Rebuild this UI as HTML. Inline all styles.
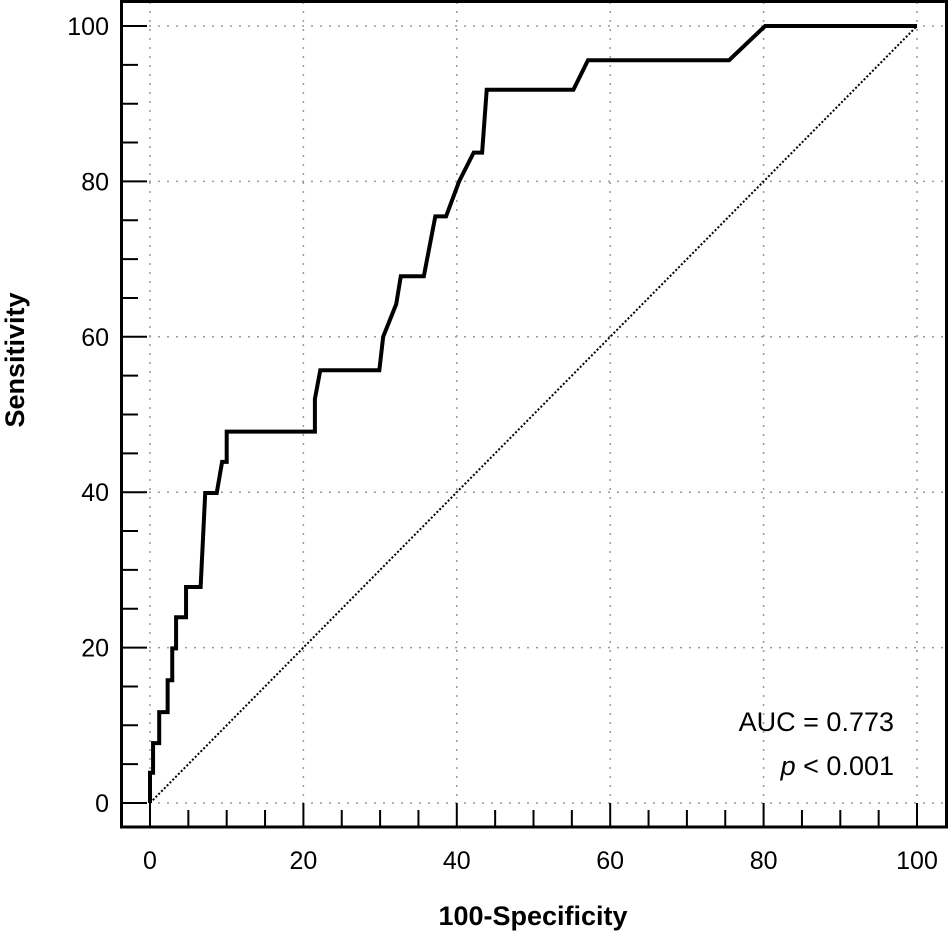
<!DOCTYPE html>
<html><head><meta charset="utf-8"><style>
body{margin:0;background:#fff;}
svg{display:block;font-family:"Liberation Sans",sans-serif;}
</style></head><body>
<svg id="chart" width="950" height="934" viewBox="0 0 950 934">
<rect x="0" y="0" width="950" height="934" fill="#fff"/>
<g id="grid"></g>
<g id="ticks"></g>
<line id="diag" stroke="#000" stroke-width="2" stroke-dasharray="2,2"/>
<polyline id="roc" fill="none" stroke="#000" stroke-width="4" stroke-linejoin="miter"/>
<rect x="121.5" y="1.5" width="825" height="825.5" fill="none" stroke="#000" stroke-width="3"/>
<text x="894" y="731" font-size="27" text-anchor="end">AUC = 0.773</text>
<text x="894" y="775" font-size="27" text-anchor="end"><tspan font-style="italic">p</tspan> &lt; 0.001</text>
<text x="533" y="925" font-size="27" font-weight="bold" text-anchor="middle">100-Specificity</text>
<text transform="translate(24,360) rotate(-90)" font-size="27" font-weight="bold" text-anchor="middle">Sensitivity</text>
</svg>
<script>
const fprValues=[0,0,0.4,0.4,1.2,1.2,2.3,2.3,2.9,2.9,3.4,3.4,4.7,4.7,6.6,7.2,8.7,9.4,10,10,21.5,21.5,22.2,29.9,30.4,32.1,32.7,35.7,37.2,38.6,40.3,42.2,43.3,43.9,55.2,57.1,75.5,80.2,100];
const tprValues=[0,3.9,3.9,7.7,7.7,11.7,11.7,15.8,15.8,19.9,19.9,23.9,23.9,27.8,27.8,39.9,39.9,43.9,43.9,47.8,47.8,52,55.7,55.7,60,64.2,67.8,67.8,75.5,75.5,80,83.7,83.7,91.8,91.8,95.6,95.6,100,100];
const majorTicks=[0,20,40,60,80,100];
const minorTicks=[5,10,15,25,30,35,45,50,55,65,70,75,85,90,95];
const NS="http://www.w3.org/2000/svg";
const xS=v=>150+v*7.67, yS=v=>803-v*7.77;
const grid=document.getElementById('grid'), ticks=document.getElementById('ticks'), svg=document.getElementById('chart');
function mk(tag,attrs,parent){const e=document.createElementNS(NS,tag);for(const k in attrs)e.setAttribute(k,attrs[k]);parent.appendChild(e);return e;}
majorTicks.forEach(v=>{
  const gx=mk('line',{x1:xS(v),x2:xS(v),y1:2,y2:826,stroke:'#999','stroke-width':1.5,'stroke-dasharray':'2,7'},grid);
  
  
  const gy=mk('line',{x1:122,x2:946,y1:yS(v),y2:yS(v),stroke:'#999','stroke-width':1.5,'stroke-dasharray':'2,7'},grid);
  
  
  const tx=mk('line',{x1:xS(v),x2:xS(v),y1:803,y2:827,stroke:'#000','stroke-width':2},ticks);
  
  
  const ty=mk('line',{x1:121,x2:147,y1:yS(v),y2:yS(v),stroke:'#000','stroke-width':2},ticks);
  
  
  const lx=mk('text',{x:xS(v),y:869,'font-size':25,'text-anchor':'middle'},svg);
  lx.textContent=v;
  
  
  const ly=mk('text',{x:109,y:yS(v)+9,'font-size':25,'text-anchor':'end'},svg);
  ly.textContent=v;
  
  
});
minorTicks.forEach(v=>{
  const tx=mk('line',{x1:xS(v),x2:xS(v),y1:810,y2:827,stroke:'#000','stroke-width':2},ticks);
  
  
  const ty=mk('line',{x1:121,x2:138,y1:yS(v),y2:yS(v),stroke:'#000','stroke-width':2},ticks);
  
  
});
const d=document.getElementById('diag');
d.setAttribute('x1',xS(0));d.setAttribute('y1',yS(0));d.setAttribute('x2',xS(100));d.setAttribute('y2',yS(100));
document.getElementById('roc').setAttribute('points',fprValues.map((f,i)=>xS(f)+','+yS(tprValues[i])).join(' '));
</script>
</body></html>
